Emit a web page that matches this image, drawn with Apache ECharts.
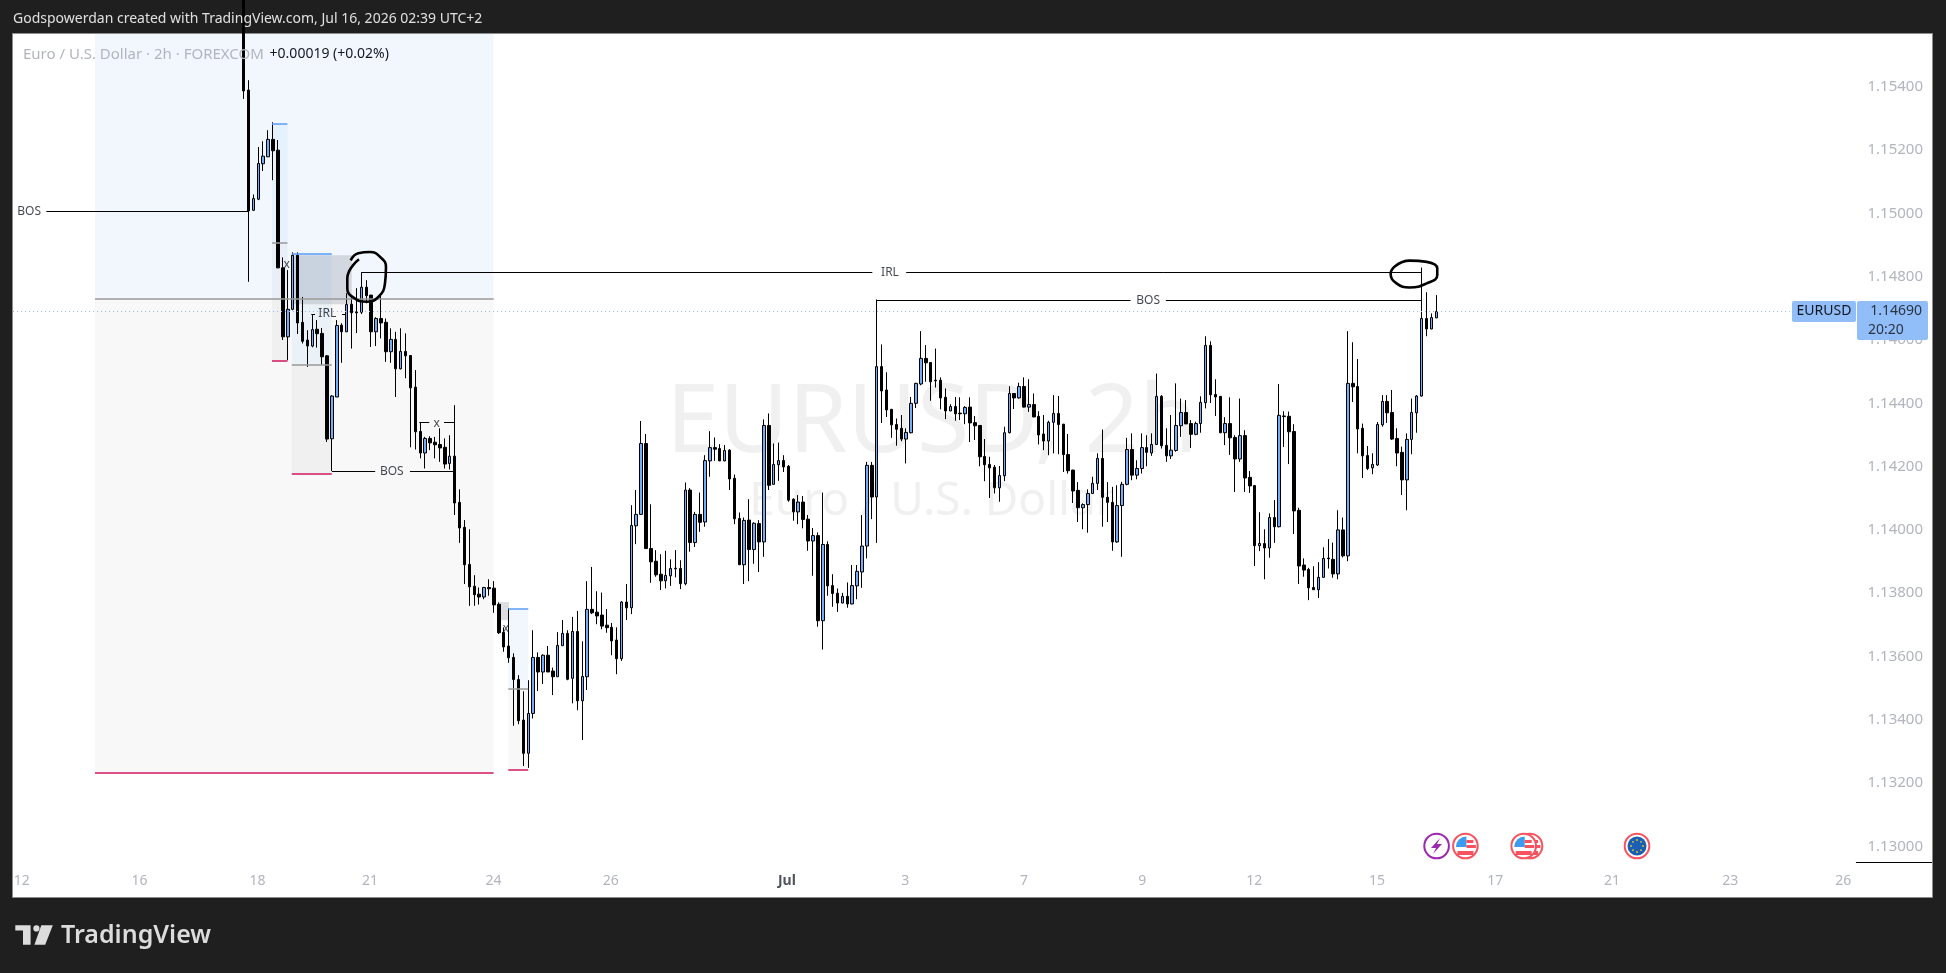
<!DOCTYPE html>
<html><head><meta charset="utf-8">
<style>html,body{margin:0;padding:0;background:#1f1f1f}#c{width:1946px;height:973px}</style>
<script src="https://cdn.jsdelivr.net/npm/echarts@6/dist/echarts.min.js"></script>
</head><body><div id="c"></div>
<script>
const opens=[
1.15720,1.15390,1.15010,1.15045,1.15157,1.15179,1.15234,1.15200,1.14828,1.14610,
1.14697,1.14868,1.14656,1.14600,1.14581,1.14634,1.14621,1.14550,1.14288,1.14420,
1.14647,1.14626,1.14713,1.14689,1.14688,1.14767,1.14742,1.14626,1.14668,1.14656,
1.14563,1.14602,1.14509,1.14564,1.14551,1.14451,1.14311,1.14243,1.14289,1.14277,
1.14270,1.14261,1.14210,1.14233,1.14087,1.14008,1.13891,1.13822,1.13797,1.13788,
1.13818,1.13816,1.13765,1.13676,1.13633,1.13597,1.13527,1.13399,1.13294,1.13420,
1.13597,1.13551,1.13604,1.13554,1.13536,1.13634,1.13673,1.13531,1.13679,1.13460,
1.13536,1.13749,1.13740,1.13731,1.13699,1.13692,1.13652,1.13593,1.13772,1.13754,
1.14013,1.14049,1.14273,1.13941,1.13901,1.13860,1.13839,1.13855,1.13879,1.13878,
1.13830,1.14126,1.13960,1.14049,1.14025,1.14218,1.14260,1.14257,1.14218,1.14252,
1.14163,1.14036,1.13890,1.14031,1.13938,1.14020,1.13962,1.14330,1.14144,1.14206,
1.14219,1.14201,1.14097,1.14057,1.14088,1.14034,1.13965,1.13982,1.13713,1.13954,
1.13824,1.13800,1.13769,1.13790,1.13766,1.13823,1.13867,1.13949,1.14204,1.14104,
1.14516,1.14442,1.14381,1.14333,1.14321,1.14287,1.14307,1.14400,1.14461,1.14542,
1.14529,1.14473,1.14473,1.14419,1.14376,1.14390,1.14369,1.14367,1.14388,1.14339,
1.14330,1.14232,1.14207,1.14198,1.14133,1.14171,1.14307,1.14431,1.14417,1.14453,
1.14388,1.14396,1.14359,1.14303,1.14281,1.14340,1.14368,1.14334,1.14238,1.14189,
1.14125,1.14070,1.14080,1.14115,1.14147,1.14226,1.14103,1.14087,1.13962,1.14077,
1.14144,1.14254,1.14173,1.14194,1.14260,1.14243,1.14270,1.14422,1.14267,1.14234,
1.14251,1.14329,1.14371,1.14336,1.14302,1.14336,1.14402,1.14583,1.14428,1.14422,
1.14307,1.14336,1.14292,1.14224,1.14298,1.14166,1.14140,1.13950,1.13957,1.13943,
1.14039,1.14010,1.14360,1.14359,1.14311,1.14062,1.13889,1.13875,1.13818,1.13811,
1.13850,1.13911,1.13907,1.13861,1.14000,1.13918,1.14463,1.14453,1.14321,1.14235,
1.14196,1.14205,1.14332,1.14406,1.14371,1.14289,1.14245,1.14158,1.14286,1.14370,
1.14423,1.14668,1.14635,1.14670];
const closes=[
1.15387,1.15008,1.15047,1.15158,1.15181,1.15234,1.15198,1.14828,1.14610,1.14697,
1.14868,1.14654,1.14596,1.14581,1.14633,1.14620,1.14547,1.14287,1.14423,1.14646,
1.14626,1.14712,1.14686,1.14686,1.14767,1.14740,1.14626,1.14668,1.14654,1.14563,
1.14602,1.14509,1.14564,1.14550,1.14449,1.14310,1.14243,1.14289,1.14275,1.14269,
1.14259,1.14208,1.14233,1.14085,1.14006,1.13890,1.13820,1.13795,1.13788,1.13818,
1.13814,1.13763,1.13675,1.13630,1.13596,1.13527,1.13397,1.13294,1.13420,1.13597,
1.13551,1.13604,1.13551,1.13536,1.13635,1.13673,1.13528,1.13679,1.13460,1.13537,
1.13749,1.13738,1.13728,1.13696,1.13691,1.13649,1.13593,1.13772,1.13754,1.14014,
1.14049,1.14273,1.13941,1.13899,1.13858,1.13839,1.13856,1.13878,1.13877,1.13830,
1.14126,1.13960,1.14049,1.14024,1.14219,1.14260,1.14255,1.14218,1.14251,1.14161,
1.14035,1.13890,1.14030,1.13938,1.14021,1.13962,1.14330,1.14141,1.14207,1.14219,
1.14199,1.14094,1.14057,1.14088,1.14033,1.13965,1.13982,1.13713,1.13954,1.13823,
1.13799,1.13769,1.13790,1.13766,1.13824,1.13869,1.13949,1.14204,1.14104,1.14516,
1.14439,1.14379,1.14332,1.14318,1.14287,1.14308,1.14400,1.14463,1.14542,1.14528,
1.14468,1.14471,1.14417,1.14376,1.14390,1.14367,1.14367,1.14387,1.14338,1.14329,
1.14231,1.14206,1.14196,1.14133,1.14172,1.14307,1.14431,1.14417,1.14453,1.14388,
1.14396,1.14357,1.14300,1.14281,1.14340,1.14368,1.14333,1.14238,1.14187,1.14123,
1.14070,1.14080,1.14115,1.14147,1.14226,1.14103,1.14087,1.13962,1.14077,1.14144,
1.14254,1.14173,1.14194,1.14260,1.14245,1.14270,1.14422,1.14266,1.14234,1.14252,
1.14330,1.14371,1.14335,1.14302,1.14336,1.14403,1.14583,1.14427,1.14420,1.14307,
1.14336,1.14291,1.14224,1.14298,1.14164,1.14139,1.13950,1.13957,1.13943,1.14039,
1.14010,1.14362,1.14358,1.14310,1.14060,1.13886,1.13873,1.13817,1.13811,1.13850,
1.13910,1.13909,1.13861,1.14000,1.13918,1.14463,1.14452,1.14319,1.14234,1.14194,
1.14207,1.14333,1.14406,1.14370,1.14287,1.14243,1.14158,1.14286,1.14371,1.14423,
1.14668,1.14635,1.14671,1.14690];
const lows=[
1.15362,1.14784,1.15008,1.15042,1.15134,1.15178,1.15105,1.14827,1.14600,1.14536,
1.14694,1.14619,1.14589,1.14515,1.14577,1.14576,1.14521,1.14278,1.14186,1.14420,
1.14528,1.14625,1.14573,1.14622,1.14682,1.14716,1.14578,1.14581,1.14605,1.14531,
1.14528,1.14420,1.14507,1.14479,1.14261,1.14254,1.14226,1.14194,1.14252,1.14226,
1.14215,1.14194,1.14191,1.14047,1.13959,1.13829,1.13760,1.13760,1.13764,1.13781,
1.13792,1.13738,1.13671,1.13615,1.13580,1.13381,1.13386,1.13254,1.13248,1.13404,
1.13491,1.13513,1.13551,1.13478,1.13536,1.13634,1.13525,1.13452,1.13430,1.13336,
1.13494,1.13734,1.13702,1.13686,1.13675,1.13604,1.13544,1.13586,1.13715,1.13734,
1.13955,1.14047,1.13941,1.13833,1.13852,1.13810,1.13815,1.13823,1.13850,1.13813,
1.13825,1.13931,1.13946,1.13994,1.14010,1.14168,1.14218,1.14218,1.14217,1.14126,
1.14018,1.13889,1.13829,1.13838,1.13893,1.13867,1.13915,1.14126,1.14143,1.14155,
1.14183,1.14089,1.14029,1.14018,1.14005,1.13934,1.13855,1.13694,1.13622,1.13792,
1.13757,1.13741,1.13768,1.13754,1.13765,1.13781,1.13817,1.13910,1.14034,1.13959,
1.14338,1.14357,1.14291,1.14266,1.14280,1.14210,1.14305,1.14385,1.14457,1.14468,
1.14408,1.14450,1.14381,1.14350,1.14375,1.14345,1.14347,1.14334,1.14278,1.14284,
1.14201,1.14154,1.14101,1.14115,1.14089,1.14154,1.14305,1.14382,1.14415,1.14387,
1.14373,1.14356,1.14270,1.14252,1.14236,1.14242,1.14239,1.14183,1.14178,1.14085,
1.14025,1.14002,1.13991,1.14114,1.14126,1.14010,1.14025,1.13934,1.13959,1.13915,
1.14141,1.14157,1.14160,1.14178,1.14201,1.14234,1.14268,1.14257,1.14215,1.14224,
1.14247,1.14294,1.14334,1.14259,1.14299,1.14307,1.14384,1.14401,1.14360,1.14306,
1.14268,1.14237,1.14120,1.14215,1.14120,1.14117,1.13886,1.13933,1.13844,1.13912,
1.13959,1.14008,1.14262,1.14208,1.13987,1.13829,1.13852,1.13778,1.13810,1.13785,
1.13849,1.13878,1.13849,1.13844,1.13913,1.13901,1.14404,1.14242,1.14164,1.14189,
1.14176,1.14202,1.14326,1.14338,1.14284,1.14201,1.14110,1.14062,1.14239,1.14307,
1.14421,1.14612,1.14634,1.14669];
const highs=[
1.15760,1.15421,1.15060,1.15210,1.15228,1.15263,1.15288,1.15232,1.14861,1.14821,
1.14877,1.14877,1.14736,1.14631,1.14679,1.14663,1.14638,1.14552,1.14426,1.14663,
1.14653,1.14748,1.14742,1.14764,1.14814,1.14789,1.14742,1.14672,1.14742,1.14668,
1.14637,1.14626,1.14637,1.14621,1.14552,1.14505,1.14341,1.14294,1.14296,1.14294,
1.14321,1.14289,1.14299,1.14394,1.14128,1.14031,1.14002,1.13857,1.13818,1.13820,
1.13844,1.13838,1.13771,1.13692,1.13752,1.13610,1.13541,1.13490,1.13525,1.13683,
1.13613,1.13607,1.13633,1.13565,1.13677,1.13715,1.13683,1.13725,1.13744,1.13648,
1.13838,1.13883,1.13806,1.13802,1.13750,1.13706,1.13692,1.13775,1.13829,1.14078,
1.14126,1.14344,1.14303,1.14081,1.13936,1.13923,1.13934,1.13907,1.13936,1.13904,
1.14150,1.14132,1.14057,1.14118,1.14236,1.14312,1.14292,1.14271,1.14268,1.14255,
1.14175,1.14055,1.14039,1.14097,1.14024,1.14031,1.14349,1.14368,1.14273,1.14276,
1.14236,1.14205,1.14100,1.14110,1.14107,1.14047,1.14006,1.13992,1.14118,1.13964,
1.13860,1.13815,1.13801,1.13834,1.13889,1.13889,1.14047,1.14215,1.14215,1.14728,
1.14586,1.14498,1.14382,1.14352,1.14363,1.14321,1.14420,1.14465,1.14628,1.14584,
1.14530,1.14573,1.14482,1.14447,1.14397,1.14420,1.14419,1.14391,1.14419,1.14360,
1.14331,1.14287,1.14231,1.14205,1.14202,1.14326,1.14454,1.14432,1.14465,1.14482,
1.14476,1.14431,1.14375,1.14363,1.14345,1.14426,1.14423,1.14335,1.14303,1.14190,
1.14151,1.14084,1.14128,1.14168,1.14242,1.14317,1.14151,1.14136,1.14141,1.14152,
1.14291,1.14305,1.14220,1.14305,1.14299,1.14305,1.14494,1.14426,1.14321,1.14363,
1.14463,1.14415,1.14410,1.14347,1.14342,1.14422,1.14612,1.14596,1.14476,1.14423,
1.14356,1.14419,1.14299,1.14415,1.14315,1.14186,1.14142,1.14056,1.14002,1.14052,
1.14094,1.14461,1.14375,1.14374,1.14334,1.14070,1.13910,1.13880,1.13885,1.13898,
1.13945,1.13971,1.13960,1.14062,1.14039,1.14628,1.14593,1.14540,1.14336,1.14265,
1.14242,1.14341,1.14426,1.14426,1.14442,1.14321,1.14263,1.14305,1.14415,1.14426,
1.14829,1.14751,1.14684,1.14742];

// axis ticks (x is the bar number on the 2h chart, bar 0 = first bar drawn)
const priceTicks=[1.13,1.132,1.134,1.136,1.138,1.14,1.142,1.144,1.146,1.148,1.15,1.152,1.154];
const dateTickBars=[-45.2,-21.2,2.85,25.75,50.9,74.8,110.7,134.8,159.0,183.1,205.9,230.9,255,278.8,302.9,325.9];
const dateTickLabels=['12','16','18','21','24','26','Jul','3','7','9','12','15','17','21','23','26'];

// drawings: [bar from, bar to, price top, price bottom]
const lightBlueZones=[[-30.28,50.94,1.15567,1.14731],[53.93,58.0,1.13752,1.13499]];
const lightGrayZones=[[-30.28,50.94,1.14731,1.13234],[53.93,58.0,1.13499,1.13243]];
const midBlueZones=[[5.79,8.94,1.15284,1.14908],[9.82,17.97,1.14874,1.14523]];
const midGrayZones=[[5.79,8.94,1.14908,1.14533],[9.82,17.97,1.14523,1.14176]];
const darkGrayZones=[[9.86,22.03,1.14868,1.14713],[51.83,54.07,1.13772,1.13715]];
// segments: [bar from, bar to, price]
const blackSegments=[[-40.18,1,1.15006],[24,128.1,1.14814],[135,240,1.14814],[129,180.7,1.14726],[187.9,240,1.14726],
 [18,26.8,1.14185],[33.9,43,1.14185],[13.79,14.55,1.14681],[20.05,20.86,1.14681],[35.8,37.84,1.14340],[40.83,42.93,1.14340],[328.5,344,1.12949]];
const pinkSegments=[[-30.28,50.94,1.13234],[5.79,8.94,1.14533],[9.82,17.97,1.14176],[53.93,58.0,1.13243]];
const blueSegments=[[5.79,8.94,1.15284],[9.82,17.97,1.14874],[53.93,58.0,1.13752]];
const graySegments=[[-30.28,50.94,1.14731],[5.79,8.94,1.14908],[9.82,17.97,1.14523],[53.93,58.0,1.13499]];
const lastPriceSegment=[[-46.98,315,1.14690]];
// hand-drawn ellipses: [bar, price]
const handCircleLeft=[[23.51,1.14855],[21.13,1.14795],[21.13,1.14763],[22.70,1.14731],[25.08,1.14721],[27.45,1.14736],[28.81,1.14779],[29.01,1.14831],[27.79,1.14863],[25.75,1.14878],[23.37,1.14874],[21.82,1.14852]];
const handCircleRight=[[234.6,1.14833],[237.6,1.14851],[241.06,1.14847],[243.2,1.14826],[243.2,1.14805],[241.06,1.14779],[237.6,1.14766],[234.9,1.14779],[233.7,1.14810],[234.6,1.14833]];
// text notes: [bar, price, text]
const notes=[[-43.7,1.15006,'BOS'],[131.7,1.14814,'IRL'],[184.3,1.14726,'BOS'],[30.2,1.14185,'BOS'],[17.05,1.14683,'IRL'],[39.35,1.14337,'x'],[8.78,1.14837,'x'],[53.46,1.13689,'x']];

const FONT='"Noto Sans",sans-serif';
const candles=opens.map((o,i)=>[i,o,closes[i],lows[i],highs[i]]);
const area=(zones,color)=>zones.map(z=>[{coord:[z[0],z[2]],itemStyle:{color}},{coord:[z[1],z[3]]}]);
const seg=(list,color,width,type)=>list.map(s=>[{coord:[s[0],s[2]],lineStyle:{color,width,type:type||'solid'}},{coord:[s[1],s[2]]}]);

// event badges
function badgeRing(cx,cy,color){return {type:'circle',z:6,shape:{cx,cy,r:12.3},style:{fill:'#fff',stroke:color,lineWidth:2}};}
function usFlag(cx,cy){
 const red='#f7525f',blue='#3d9bf0',out=[badgeRing(cx,cy,red)];
 out.push({type:'sector',z:6,shape:{cx:cx+1,cy:cy+1,r:10.5,startAngle:Math.PI,endAngle:Math.PI*1.5},style:{fill:blue}});
 out.push({type:'rect',z:6,shape:{x:cx+1,y:cy-6,width:7,height:3},style:{fill:red}});
 out.push({type:'rect',z:6,shape:{x:cx+1,y:cy-1,width:9.5,height:3},style:{fill:red}});
 out.push({type:'rect',z:6,shape:{x:cx-8,y:cy+5,width:16,height:4},style:{fill:red}});
 return out;
}
const badges=[
 badgeRing(1436.6,846,'#9c27b0'),
 {type:'polygon',z:6,shape:{points:[[1440,838],[1431,848],[1436,848],[1433,854],[1442,844],[1437,844]]},style:{fill:'#9c27b0'}},
 ...usFlag(1530,846),...usFlag(1523.7,846),...usFlag(1465.4,846),
 badgeRing(1637,846,'#f7525f'),
 {type:'circle',z:6,shape:{cx:1637,cy:846,r:9.5},style:{fill:'#1a5fb4'}}
];
[[0,-6],[4,-4.2],[6,0],[4,4.2],[0,6],[-4,4.2],[-6,0],[-4,-4.2]].forEach(d=>badges.push({type:'circle',z:7,shape:{cx:1637+d[0],cy:846+d[1],r:0.9},style:{fill:'#f3c623'}}));

const txt=(x,y,text,size,fill,extra)=>({type:'text',z:(extra&&extra.z)||10,x,y,style:Object.assign({text,fontFamily:FONT,fontSize:size,fill,textVerticalAlign:'middle',verticalAlign:'middle'},extra&&extra.style||{})});

const chart=echarts.init(document.getElementById('c'),null,{renderer:'canvas'});
chart.setOption({
 animation:false,
 backgroundColor:'#1f1f1f',
 grid:{left:13,top:34,width:1919,height:863},
 xAxis:{type:'value',min:-46.98,max:344,axisLine:{show:false},axisTick:{show:false},splitLine:{show:false},
  axisLabel:{inside:true,margin:9,fontFamily:FONT,fontSize:14,color:'#b2b5be',customValues:dateTickBars,
   formatter:v=>{const k=dateTickLabels[dateTickBars.indexOf(v)];return k==='Jul'?'{b|Jul}':k;},
   rich:{b:{fontFamily:FONT,fontSize:14,fontWeight:'bold',color:'#50535e'}}}},
 yAxis:{type:'value',position:'right',min:1.12840,max:1.15567,axisLine:{show:false},axisTick:{show:false},splitLine:{show:false},
  axisLabel:{inside:true,margin:9,fontFamily:FONT,fontSize:15,color:'#b2b5be',customValues:priceTicks,formatter:v=>v.toFixed(5)}},
 graphic:{elements:[
  {type:'rect',z:-2,shape:{x:12.5,y:33.5,width:1920,height:864},style:{fill:'#fff',stroke:'#8c8c8c',lineWidth:1}},
  {type:'text',z:-1,x:932,y:425,style:{text:'EURUSD, 2h',fontFamily:FONT,fontSize:95,fill:'#f0f0f1',align:'center',verticalAlign:'middle'}},
  {type:'text',z:-1,x:932,y:502,style:{text:'Euro / U.S. Dollar',fontFamily:FONT,fontSize:46,fill:'#f0f0f1',align:'center',verticalAlign:'middle'}},
  txt(13,19.5,'Godspowerdan created with TradingView.com, Jul 16, 2026 02:39 UTC+2',14,'#e0e0e0'),
  txt(23,54.5,'Euro / U.S. Dollar · 2h · FOREXCOM',15,'#b2b5be'),
  txt(269.6,54.5,'+0.00019 (+0.02%)',14,'#131722'),
  {type:'rect',z:10,shape:{x:1792,y:301,width:64,height:21,r:2},style:{fill:'#91bdf9'}},
  {type:'rect',z:10,shape:{x:1857,y:301,width:71,height:39,r:2},style:{fill:'#91bdf9'}},
  txt(1824,311.3,'EURUSD',14,'#131722',{style:{align:'center'},z:11}),
  txt(1922,311.3,'1.14690',14,'#2c3442',{style:{align:'right'},z:11}),
  txt(1868,330,'20:20',14,'#2c3442',{z:11}),
  {type:'polygon',z:10,shape:{points:[[15.3,925.3],[30.6,925.3],[30.6,944.7],[23,944.7],[23,930.5],[15.3,930.5]]},style:{fill:'#dcdcdc'}},
  {type:'circle',z:10,shape:{cx:36.4,cy:928.4,r:3.1},style:{fill:'#dcdcdc'}},
  {type:'polygon',z:10,shape:{points:[[41.3,925.3],[52.8,925.3],[45.2,944.7],[34.4,944.7]]},style:{fill:'#dcdcdc'}},
  txt(61,936,'TradingView',25,'#dcdcdc',{style:{fontWeight:600}}),
  ...badges
 ]},
 series:[
  {type:'line',name:'zones',data:[],silent:true,
   markArea:{silent:true,data:[...area(lightBlueZones,'#f2f7fe'),...area(lightGrayZones,'#f8f8f8')],z:1}},
  {type:'line',name:'zones2',data:[],silent:true,
   markArea:{silent:true,data:[...area(midBlueZones,'rgba(33,150,243,0.06)'),...area(midGrayZones,'rgba(120,123,134,0.06)')],z:1}},
  {type:'line',name:'zones3',data:[],silent:true,
   markArea:{silent:true,data:area(darkGrayZones,'rgba(120,123,134,0.25)'),z:1}},
  {type:'candlestick',name:'EURUSD',z:3,data:candles,encode:{x:0,y:[1,2,3,4]},barWidth:3,
   itemStyle:{color:'#73acfa',color0:'#000',borderColor:'#000',borderColor0:'#000',borderColorDoji:'#000',borderWidth:1}},
  {type:'line',name:'drawings',data:[],silent:true,
   markLine:{silent:true,symbol:'none',label:{show:false},z:4,animation:false,
    data:[...seg(lastPriceSegment,'#9db8e0',1,[1,3]),...seg(graySegments,'#999',1.5),...seg(blueSegments,'#5b9cf6',1.5),...seg(pinkSegments,'#d0195f',1.5),...seg(blackSegments,'#000',1)]}},
  {type:'line',name:'circleA',z:5,data:handCircleLeft,smooth:0.5,symbol:'none',silent:true,lineStyle:{color:'#000',width:2.6}},
  {type:'line',name:'circleB',z:5,data:handCircleRight,smooth:0.5,symbol:'none',silent:true,lineStyle:{color:'#000',width:2.6}},
  {type:'scatter',name:'notes',z:5,data:notes,symbolSize:0,silent:true,
   label:{show:true,position:'inside',fontFamily:FONT,fontSize:12,color:'#131722',formatter:p=>p.value[2]}}
 ]
});
</script></body></html>
